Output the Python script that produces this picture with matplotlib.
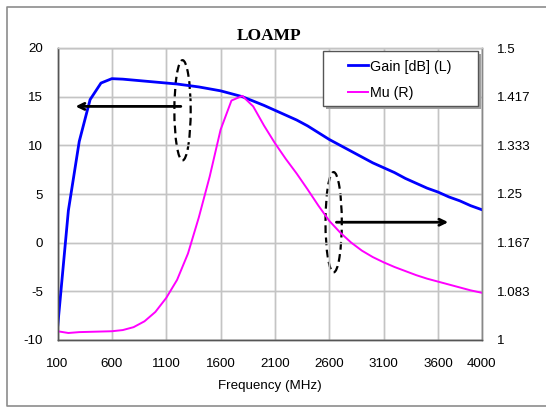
import matplotlib
matplotlib.use("Agg")
import matplotlib.pyplot as plt
from matplotlib.patches import Ellipse, Rectangle
from matplotlib.lines import Line2D

freq = list(range(100, 4001, 100))
gain_db = [-8.8, 3.3, 10.4, 14.7, 16.4, 16.85, 16.8, 16.7, 16.6, 16.5,
           16.4, 16.3, 16.15, 16.0, 15.8, 15.6, 15.3, 15.0, 14.55, 14.1,
           13.6, 13.1, 12.6, 12.0, 11.3, 10.6, 10.0, 9.4, 8.8, 8.2,
           7.7, 7.2, 6.6, 6.1, 5.6, 5.2, 4.7, 4.3, 3.8, 3.4]
mu = [1.015, 1.012, 1.0135, 1.014, 1.0145, 1.015, 1.017, 1.022, 1.032, 1.048,
      1.072, 1.103, 1.148, 1.21, 1.28, 1.36, 1.41, 1.418, 1.40, 1.367,
      1.337, 1.310, 1.285, 1.258, 1.230, 1.204, 1.184, 1.167, 1.153, 1.142,
      1.133, 1.125, 1.118, 1.111, 1.105, 1.100, 1.095, 1.090, 1.085, 1.081]

x_ticks = [100, 600, 1100, 1600, 2100, 2600, 3100, 3600, 4000]
left_ticks = [-10, -5, 0, 5, 10, 15, 20]
right_ticks = [1, 1.0833, 1.1667, 1.25, 1.3333, 1.4167, 1.5]
right_labels = ["1", "1.083", "1.167", "1.25", "1.333", "1.417", "1.5"]

plt.rcParams['font.family'] = ['Liberation Sans', 'DejaVu Sans']
plt.rcParams['axes.unicode_minus'] = False

W, H = 546, 407
fig = plt.figure(figsize=(W / 100, H / 100), dpi=100)

# outer chart frame (right edge falls outside the image)
fx0, fy0, fy1 = 7 / W, 1 - 406 / H, 1 - 7 / H
fig.add_artist(Line2D([1.01, fx0, fx0, 1.01], [fy1, fy1, fy0, fy0], transform=fig.transFigure,
                      color='#8c8c8c', lw=1.2))

ax = fig.add_axes([57.5 / W, 1 - 340 / H, 424 / W, 292 / H])
ax2 = ax.twinx()
ax2.patch.set_visible(False)

ax.set_xlim(100, 4000)
ax.set_ylim(-10, 20)
ax2.set_ylim(1, 1.5)
ax.set_xticks(x_ticks)
ax.set_yticks(left_ticks)
ax2.set_yticks(right_ticks)
ax2.set_yticklabels(right_labels)

# gridlines at the tick positions
ax.grid(True, color='#c4c4c4', lw=1.0)
ax.vlines(x_ticks, -10, 20, colors='#c4c4c4', lw=1.0, zorder=1.7)
ax.hlines(left_ticks, 100, 4000, colors='#c4c4c4', lw=1.0, zorder=1.7)

l1, = ax.plot(freq, gain_db, color='#0000ff', lw=2.0, label='Gain [dB] (L)', zorder=3)
l2, = ax2.plot(freq, mu, color='#ff00ff', lw=1.4, label='Mu (R)')

for a in (ax, ax2):
    a.tick_params(length=0, labelsize=9.6, labelcolor='black')
    for s in a.spines.values():
        s.set_color('#888888')
        s.set_linewidth(1.0)
    a.spines['left'].set_color('#555555')
    a.spines['bottom'].set_color('#555555')
    a.spines['top'].set_color('#c4c4c4')
ax.tick_params(axis='y', pad=10.5)
ax.tick_params(axis='x', pad=13)
ax2.tick_params(axis='y', pad=10.8)

ax.set_xlabel('Frequency (MHz)', fontsize=9.6, labelpad=7)
ax.set_title('LOAMP', fontsize=12.5, fontweight='bold', family='Liberation Serif', pad=6)

# annotations
ax.add_patch(Ellipse((1250, 13.6), 150, 10.3, fill=False, ls=(0, (3.5, 2)), lw=1.6, color='black'))
ax.add_patch(Ellipse((2640, 2.1), 150, 10.3, fill=False, ls=(0, (3.5, 2)), lw=1.6, color='black'))
ax.annotate('', xy=(240, 14.0), xytext=(1260, 14.0),
            arrowprops=dict(arrowstyle='->,head_length=0.45,head_width=0.22', color='black', lw=2))
ax.annotate('', xy=(3720, 2.1), xytext=(2640, 2.1),
            arrowprops=dict(arrowstyle='->,head_length=0.45,head_width=0.22', color='black', lw=2))

# legend box with shadow
fig.add_artist(Rectangle((326 / W, 1 - 109 / H), 155 / W, 55 / H, transform=fig.transFigure,
                         facecolor='#a0a0a0', edgecolor='none', zorder=5))
fig.add_artist(Rectangle((323 / W, 1 - 106 / H), 155 / W, 55 / H, transform=fig.transFigure,
                         facecolor='white', edgecolor='#555555', lw=1.0, zorder=6))
leg = fig.legend(handles=[l1, l2], loc='upper left', bbox_to_anchor=(347.5 / W, 1 - 59.5 / H),
                 bbox_transform=fig.transFigure, fontsize=10.3, frameon=False,
                 handlelength=1.45, handletextpad=0.15, borderpad=0,
                 labelspacing=0.9, borderaxespad=0)
leg.set_zorder(7)

fig.savefig('out.png', dpi=100)
